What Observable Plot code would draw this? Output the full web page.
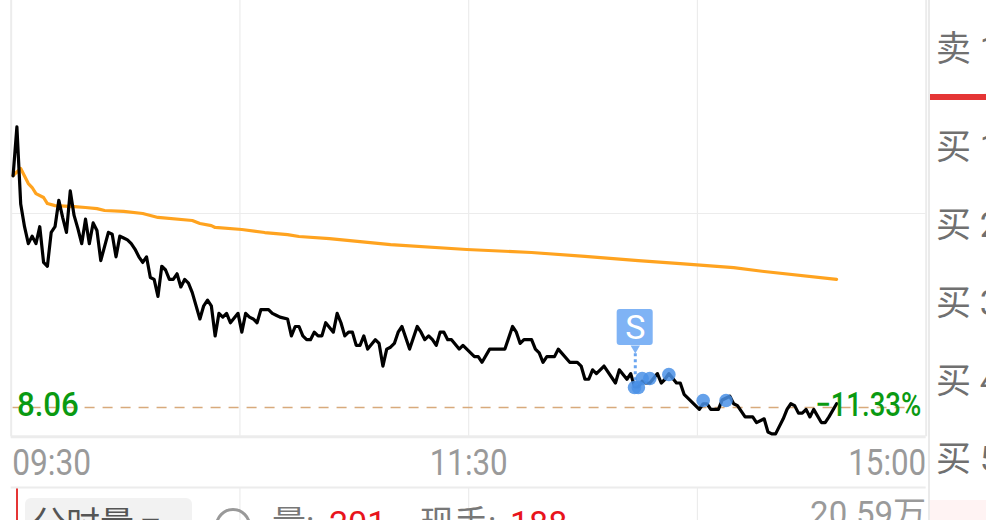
<!DOCTYPE html>
<html>
<head>
<meta charset="utf-8">
<script src="https://cdn.jsdelivr.net/npm/d3@7"></script>
<script src="https://cdn.jsdelivr.net/npm/@observablehq/plot@0.6"></script>
<style>
html,body{margin:0;padding:0;background:#fff;overflow:hidden;}
#wrap{position:relative;width:986px;height:520px;overflow:hidden;font-family:Roboto,"Noto Sans CJK SC",sans-serif;}
#wrap svg{position:absolute;left:0;top:0;font-family:Roboto,"Noto Sans CJK SC",sans-serif;}
.ui{position:absolute;white-space:nowrap;line-height:1;}
.book{left:936px;font-size:35px;color:#707070;}
</style>
</head>
<body>
<div id="wrap"></div>
<script>
// Minute index of each vertex of the price line, and the price there
const priceMinutes = [0,1,2,3,4,5,6,7,8,9,10,11,12,13,14,15,16,17,18,19,20,21,22,23,25,26,27,28,29,30,31,32,33,34,35,36,37,38,39,40,41,42,43,44,45,46,47,49,50,51,52,53,54,55,56,57,59,60,61,62,63,64,65,67,68,69,70,72,73,74,75,76,77,78,79,80,81,82,84,85,86,87,88,89,90,91,92,93,95,96,97,98,99,100,101,102,104,106,107,108,109,110,111,112,113,114,115,117,118,121,122,123,125,129,131,132,133,134,136,137,138,139,140,142,143,146,148,149,150,151,152,153,154,155,158,159,161,162,163,164,165,166,167,169,170,171,172,174,175,176,180,181,182,183,185,186,188,189,190,192,194,195,197,198,199,200,202,203,204,205,206,207,208,209,210,212,213,214,216];
const prices = [9.29,9.55,9.14,9.02,8.93,8.97,8.93,9.02,8.83,8.81,8.99,9.02,9.16,9.07,8.99,9.21,9.08,9.01,8.93,9.06,8.93,9.04,9.00,8.84,8.99,8.98,8.86,8.97,8.96,8.95,8.93,8.90,8.86,8.83,8.86,8.75,8.74,8.65,8.81,8.79,8.74,8.74,8.77,8.70,8.74,8.72,8.67,8.53,8.60,8.63,8.60,8.44,8.56,8.54,8.56,8.51,8.56,8.46,8.56,8.54,8.53,8.51,8.58,8.58,8.56,8.55,8.54,8.53,8.44,8.49,8.49,8.44,8.42,8.42,8.46,8.44,8.44,8.51,8.46,8.56,8.51,8.44,8.46,8.46,8.39,8.39,8.44,8.37,8.42,8.40,8.28,8.37,8.38,8.40,8.46,8.49,8.37,8.49,8.46,8.42,8.44,8.42,8.39,8.46,8.46,8.42,8.42,8.37,8.39,8.33,8.33,8.30,8.37,8.37,8.49,8.46,8.40,8.42,8.42,8.37,8.35,8.30,8.33,8.33,8.37,8.30,8.30,8.28,8.21,8.21,8.26,8.24,8.26,8.28,8.19,8.26,8.21,8.24,8.17,8.17,8.20,8.19,8.19,8.24,8.19,8.21,8.24,8.19,8.19,8.13,8.05,8.08,8.08,8.05,8.05,8.10,8.12,8.08,8.07,8.01,8.01,7.98,8.00,7.93,7.92,7.92,8.00,8.05,8.08,8.07,8.03,8.03,8.05,8.01,8.05,7.98,7.98,8.01,8.08];
// Average-price line vertices
const avgMinutes = [0,2,4,5,6,8,9,11,16,19,22,24,29,34,38,47,49,52,53,60,66,72,75,83,99,119,136,150,164,175,189,197,216];
const avgPrices = [9.292,9.329,9.249,9.228,9.196,9.175,9.143,9.132,9.127,9.122,9.116,9.106,9.101,9.090,9.069,9.053,9.037,9.026,9.016,9.005,8.989,8.978,8.968,8.957,8.925,8.899,8.883,8.862,8.840,8.824,8.803,8.782,8.740];
// Trade markers
const markerMinutes = [163,164,165,167,172,181,187];
const markerPrices = [8.166,8.166,8.214,8.214,8.235,8.097,8.097];
const tickLabels = ["09:30","11:30","15:00"];
const prevClose = 9.09;
const lastPrice = 8.06;
const lastPct = "−11.33%";
const bookLabels = ["卖 1","买 1","买 2","买 3","买 4","买 5"];

const priceLine = priceMinutes.map((m,i)=>({m,p:prices[i]}));
const avgLine = avgMinutes.map((m,i)=>({m,p:avgPrices[i]}));
const markers = markerMinutes.map((m,i)=>({m,p:markerPrices[i]}));

const gridLine = "#ececec";
const chartBottom = 7.905, volTop = 7.635, yMin = 7.46, yMax = 10.221;
const mStart = -0.5, mEnd = 239.5;
const green = "#0a9a12", gray = "#9a9a9a";
const flagBlue = "#7fb3f5";

const plot = Plot.plot({
  width: 986, height: 520,
  marginTop: 0, marginBottom: 0, marginLeft: 0, marginRight: 0,
  x: {axis: null, domain: [-3.3, 255.32], range: [0, 986]},
  y: {axis: null, domain: [yMin, yMax], range: [520, 0]},
  marks: [
    // Grid
    Plot.ruleX([59.5,119.5,179.5], {y1: chartBottom, y2: yMax, stroke: gridLine, strokeWidth: 1.2}),
    Plot.ruleX([59.5,119.5,179.5], {y1: yMin, y2: volTop, stroke: gridLine, strokeWidth: 1.2}),
    Plot.ruleY([prevClose], {x1: mStart, x2: mEnd, stroke: gridLine, strokeWidth: 1.2}),
    Plot.ruleX([mStart], {y1: chartBottom, y2: yMax, stroke: gridLine, strokeWidth: 2}),
    Plot.ruleX([mEnd], {y1: chartBottom, y2: yMax, stroke: gridLine, strokeWidth: 2}),
    Plot.ruleY([chartBottom], {x1: mStart, x2: mEnd, stroke: gridLine, strokeWidth: 3}),
    Plot.ruleY([volTop], {x1: mStart, x2: mEnd, stroke: gridLine, strokeWidth: 2}),
    // Last price dash
    Plot.ruleY([lastPrice], {x1: 0, x2: 237, stroke: "#d8aa7c", strokeWidth: 1.5, strokeDasharray: "10,8"}),
    // Lines
    Plot.line(avgLine, {x: "m", y: "p", stroke: "#ffa31f", strokeWidth: 3.2}),
    Plot.line(priceLine, {x: "m", y: "p", stroke: "#000", strokeWidth: 3.2, strokeLinejoin: "round"}),
    // Sell flag
    Plot.ruleX([163.2], {y1: 8.17, y2: 8.36, stroke: "#6aa5f0", strokeWidth: 3, strokeDasharray: "3,3"}),
    Plot.dot(markers, {x: "m", y: "p", r: 6.8, fill: "#4a90e6", fillOpacity: 0.85}),
    Plot.dot([{m:163.2,p:8.375}], {x:"m", y:"p", symbol:"triangle", r:3.5, rotate:180, fill: flagBlue}),
    Plot.rect([{a:158.45,b:167.9,c:8.389,d:8.58}], {x1:"a", x2:"b", y1:"c", y2:"d", fill: flagBlue, rx: 3}),
    Plot.text(["S"], {x: 163.2, y: 8.484, text: d=>d, fill: "#fff", fontSize: 34, fontWeight: 400}),
    // Tick labels
    Plot.text([tickLabels[0]], {x: mStart, y: 7.767, text: d=>d, textAnchor: "start", fill: gray, fontSize: 37, dx: 1}),
    Plot.text([tickLabels[1]], {x: 119.5, y: 7.767, text: d=>d, textAnchor: "middle", fill: gray, fontSize: 37}),
    Plot.text([tickLabels[2]], {x: mEnd, y: 7.767, text: d=>d, textAnchor: "end", fill: gray, fontSize: 37}),
    // Value labels
    Plot.text([lastPrice.toFixed(2)], {x: 1, y: lastPrice+0.012, text: d=>d, textAnchor: "start", fill: green, fontSize: 34, fontWeight: 500}),
    Plot.text([lastPct], {x: 238.2, y: lastPrice+0.012, text: d=>d, textAnchor: "end", fill: green, fontSize: 34, fontWeight: 500})
  ]
});
plot.style.background = "transparent";
// Reference digits are narrower than Roboto: fit the widths
const fitWidths = new Map([[tickLabels[0],79],[tickLabels[1],78],[tickLabels[2],78],[lastPrice.toFixed(2),62],[lastPct,106]]);
plot.querySelectorAll("text").forEach(t=>{
  const w = fitWidths.get(t.textContent);
  if (w) { t.setAttribute("textLength", w); t.setAttribute("lengthAdjust", "spacingAndGlyphs"); }
});
const wrap = document.getElementById("wrap");

function box(l,t,w,h,c){const d=document.createElement("div");d.style.cssText=`position:absolute;left:${l}px;top:${t}px;width:${w}px;height:${h}px;background:${c}`;wrap.appendChild(d);return d;}
function label(txt,l,t,size,color,cls){const d=document.createElement("div");d.className="ui "+(cls||"");d.textContent=txt;d.style.left=l+"px";d.style.top=t+"px";if(size)d.style.fontSize=size+"px";d.style.color=color;wrap.appendChild(d);return d;}

// Right-hand order book panel and bottom strip
box(928,0,2,520,"#eaeaea");
box(930,94,56,6,"#e53535");
box(930,500,56,20,"#fff3f3");
const bookTops = [32,130,208,286,364,442];
bookLabels.forEach((t,i)=>label(t,936,bookTops[i],null,"#707070","book"));
box(16,487,2,33,"#e53535");
const btn = box(25,498,167,40,"#f2f2f2"); btn.style.borderRadius="6px";
wrap.appendChild(plot);
label("分时量 ▾",32,507,34,"#555");
const ring = box(215,508,26,26,"transparent"); ring.style.cssText += ";border:3px solid #999;border-radius:50%;width:30px;height:30px";
label("量:",272,506,34,"#777");
label("201",329,506,34,"#e8141c");
label("现手:",420,506,34,"#777");
label("188",510,506,34,"#e8141c");
const vol = label("20.59万",0,497,33,"#9a9a9a"); vol.style.left="auto"; vol.style.right="60px";
</script>
</body>
</html>
